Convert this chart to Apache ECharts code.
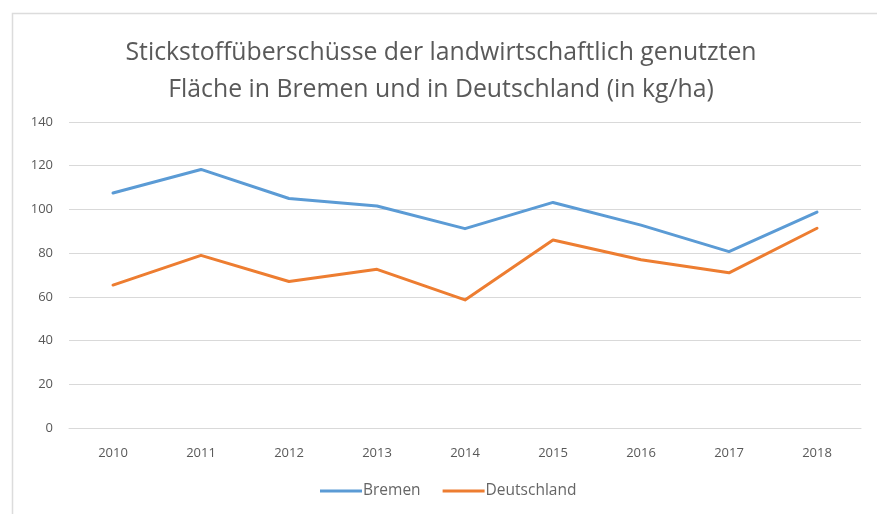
<!DOCTYPE html>
<html>
<head>
<meta charset="utf-8">
<script src="https://cdn.jsdelivr.net/npm/echarts@6/dist/echarts.min.js"></script>
<style>
    html, body { margin: 0; padding: 0; background: #fff; }
    #chart { width: 877px; height: 514px; }
</style>
</head>
<body>
<div id="chart"></div>
<script>
    var years = ['2010', '2011', '2012', '2013', '2014', '2015', '2016', '2017', '2018'];
    var bremen = [107.5, 118.3, 105, 101.6, 91.2, 103.2, 92.8, 80.7, 98.8];
    var deutschland = [65.4, 79, 67, 72.6, 58.6, 86, 77, 71, 91.4];

    var textColor = '#595959';
    var chartDom = document.getElementById('chart');
    var myChart = echarts.init(chartDom);

    var option = {
        backgroundColor: '#fff',
        animation: false,
        title: {
            text: 'Stickstoffüberschüsse der landwirtschaftlich genutzten\nFläche in Bremen und in Deutschland (in kg/ha)',
            left: 436,
            top: 29,
            textAlign: 'center',
            textStyle: {
                fontFamily: 'Open Sans',
                fontWeight: 'normal',
                fontSize: 24.8,
                lineHeight: 37,
                color: textColor
            }
        },
        // frame of the chart area
        graphic: [{
            type: 'rect',
            shape: { x: 12.5, y: 13.5, width: 900, height: 520 },
            style: { fill: 'none', stroke: '#dcdcdc', lineWidth: 1.5 },
            silent: true
        }],
        legend: {
            bottom: 10,
            left: 315,
            itemWidth: 42,
            itemHeight: 3,
            itemGap: 22,
            icon: 'rect',
            textStyle: { fontFamily: 'Open Sans', fontSize: 15.5, color: '#666666', padding: [0, 0, 0, -4] },
            data: ['Bremen', 'Deutschland']
        },
        grid: {
            left: 69,
            right: 16,
            top: 122,
            bottom: 86
        },
        xAxis: {
            type: 'category',
            data: years,
            boundaryGap: true,
            axisLine: { show: true, lineStyle: { color: '#d9d9d9', width: 1 } },
            axisTick: { show: false },
            axisLabel: { fontFamily: 'Open Sans', fontSize: 13, color: textColor, margin: 19 }
        },
        yAxis: {
            type: 'value',
            min: 0,
            max: 140,
            interval: 20,
            axisLine: { show: false },
            axisTick: { show: false },
            axisLabel: { fontFamily: 'Open Sans', fontSize: 13, color: textColor, margin: 16 },
            splitLine: { lineStyle: { color: '#d9d9d9', width: 1 } }
        },
        series: [
            {
                name: 'Bremen',
                type: 'line',
                data: bremen,
                symbol: 'none',
                color: '#5b9bd5',
                lineStyle: { width: 3, color: '#5b9bd5', cap: 'round', join: 'round' }
            },
            {
                name: 'Deutschland',
                type: 'line',
                data: deutschland,
                symbol: 'none',
                color: '#ed7d31',
                lineStyle: { width: 3, color: '#ed7d31', cap: 'round', join: 'round' }
            }
        ]
    };

    myChart.setOption(option);
</script>
</body>
</html>
